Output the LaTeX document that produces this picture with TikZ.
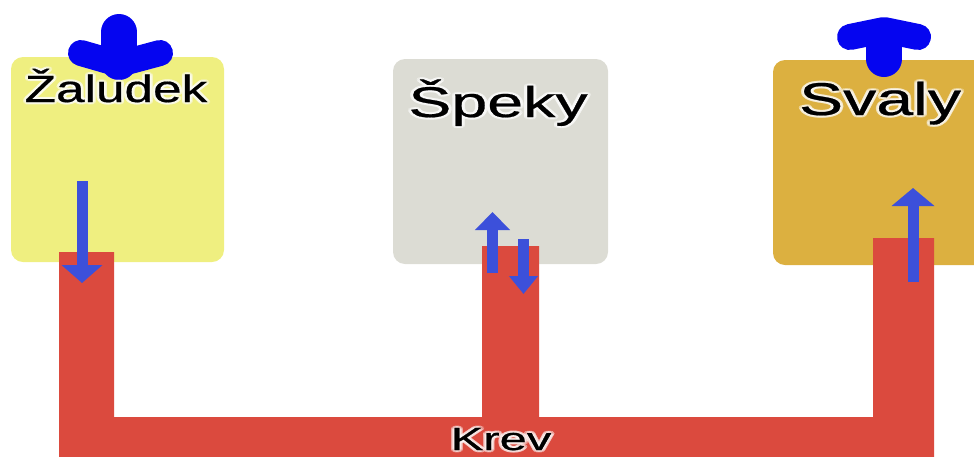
\documentclass[tikz,border=0pt]{standalone}
\usepackage{fontspec}
\setmainfont{Liberation Sans}
\newfontfamily\lblfont[FakeBold=0.5]{Liberation Sans}
\usetikzlibrary{arrows.meta}
\definecolor{boxyellow}{RGB}{239,239,128}
\definecolor{boxgrey}{RGB}{220,220,212}
\definecolor{boxgold}{RGB}{220,176,64}
\definecolor{pipered}{RGB}{219,74,62}
\definecolor{fatblue}{RGB}{5,5,240}
\definecolor{thinblue}{RGB}{60,80,218}
\newcommand{\glownode}[5]{%
  \foreach \ang in {0,30,...,330}{\node[lbl,xscale=#5,text=white,opacity=0.35,shift={(\ang:2.2pt)}] at (#2) {\lblfont#3#4};}
  \node[lbl,xscale=#5] (#1) at (#2) {\lblfont#3#4};}
\begin{document}
\begin{tikzpicture}[x=1pt,y=-1pt,
  organ/.style={rounded corners=12pt,inner sep=0pt,outer sep=0pt,draw=none},
  lbl/.style={anchor=base,inner sep=0pt,text=black},
  thinarrow/.style={draw=thinblue,line width=11pt,-{Triangle[width=#1,length=18pt]}},
  fatstem/.style={draw=fatblue,line width=36pt,line cap=round},
  fatwing/.style={draw=fatblue,line width=26pt,line cap=round,line join=round}]
\useasboundingbox (0,0) rectangle (974,456);
% organ boxes
\node[organ,fill=boxyellow,minimum width=213pt,minimum height=205pt] (zal) at (117.5,159.5) {};
\node[organ,fill=boxgrey,minimum width=215pt,minimum height=205pt] (spe) at (500.5,161.5) {};
\node[organ,fill=boxgold,minimum width=220pt,minimum height=205pt] (sva) at (883,162.5) {};
% blood pipes
\fill[pipered] (59,252) -- (114,252) -- (114,417) -- (482,417) -- (482,246) -- (539,246)
  -- (539,417) -- (873,417) -- (873,238) -- (934,238) -- (934,460) -- (59,460) -- cycle;
% thin arrows
\coordinate (a1s) at (82,181); \coordinate (a1e) at (82,283);
\coordinate (a2s) at (492.5,273); \coordinate (a2e) at (492.5,212);
\coordinate (a3s) at (523.5,239); \coordinate (a3e) at (523.5,294);
\coordinate (a4s) at (913,282); \coordinate (a4e) at (913,188);
\draw[thinarrow=40pt] (a1s) -- (a1e);
\draw[thinarrow=34pt] (a2s) -- (a2e);
\draw[thinarrow=28pt] (a3s) -- (a3e);
\draw[thinarrow=42pt] (a4s) -- (a4e);
% fat arrows at top
\draw[fatstem] (119,32) -- (119,62);
\draw[fatwing] (81,53) -- (119,64) -- (160,53);
\draw[fatstem] (884,45) -- (884,59);
\draw[fatwing] (850,37) -- (884,30) -- (918,37);
% labels
\glownode{tzal}{116,102}{\fontsize{38}{40}\selectfont}{Žaludek}{1.35}
\glownode{tspe}{498,117}{\fontsize{43}{45}\selectfont}{Špeky}{1.5}
\glownode{tsva}{880,115}{\fontsize{46}{48}\selectfont}{Svaly}{1.44}
\glownode{tkrev}{501,450}{\fontsize{32}{34}\selectfont}{Krev}{1.53}
\end{tikzpicture}
\end{document}
